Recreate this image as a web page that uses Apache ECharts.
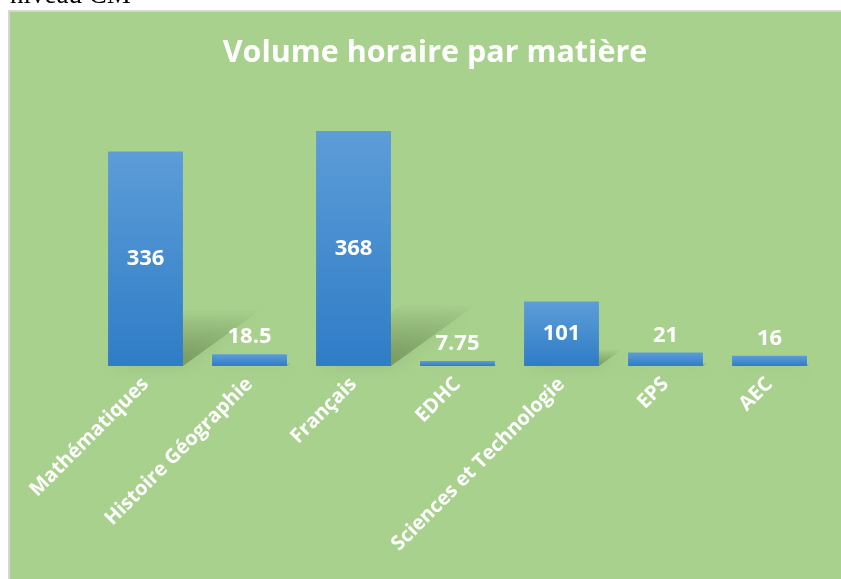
<!DOCTYPE html>
<html>
<head>
<meta charset="utf-8">
<script src="https://cdn.jsdelivr.net/npm/echarts@6/dist/echarts.min.js"></script>
<style>
    html, body { margin: 0; padding: 0; background: #ffffff; }
    #chart { width: 841px; height: 579px; }
</style>
</head>
<body>
<div id="chart"></div>
<script>
    var matieres = ['Mathématiques', 'Histoire Géographie', 'Français', 'EDHC', 'Sciences et Technologie', 'EPS', 'AEC'];
    var heures = [336, 18.5, 368, 7.75, 101, 21, 16];

    var chart = echarts.init(document.getElementById('chart'));

    // petites barres : étiquette au-dessus, sinon au centre
    var barData = heures.map(function(v) {
        return {
            value: v,
            label: { position: v < 50 ? 'top' : 'inside' }
        };
    });

    // ombre en perspective derrière chaque barre
    function renderShadow(params, api) {
        var idx = api.value(0);
        var v = api.value(1);
        var base = api.coord([idx, 0]);
        var top = api.coord([idx, v]);
        var w = api.size([1, 0])[0] * 0.72;
        var h = base[1] - top[1];
        var sh = h * 0.26;
        var dx = h * 0.36;
        var x0 = base[0] - w / 2;
        var x1 = base[0] + w / 2;
        var y0 = base[1];
        return {
            type: 'polygon',
            shape: {
                points: [[x0, y0], [x1, y0], [x1 + dx, y0 - sh], [x0 + dx, y0 - sh]]
            },
            style: {
                fill: new echarts.graphic.LinearGradient(0, 1, 0, 0, [
                    { offset: 0, color: 'rgba(70,100,50,0.45)' },
                    { offset: 1, color: 'rgba(70,100,50,0.02)' }
                ]),
                shadowBlur: 18,
                shadowColor: 'rgba(70,100,50,0.4)'
            }
        };
    }

    var option = {
        backgroundColor: '#ffffff',
        animation: false,
        graphic: [
            {
                type: 'text',
                left: 10,
                top: -18,
                style: {
                    text: 'niveau CM',
                    fill: '#000000',
                    font: '27px "Liberation Serif"'
                }
            },
            {
                type: 'rect',
                z: -10,
                shape: { x: 9, y: 11, width: 840, height: 580 },
                style: { fill: '#a9d18e' }
            },
            {
                type: 'polyline',
                z: -9,
                shape: { points: [[9, 579], [9, 11], [841, 11]] },
                style: { stroke: '#d6d6d6', lineWidth: 2, fill: null }
            }
        ],
        title: {
            text: 'Volume horaire par matière',
            left: 430,
            textAlign: 'center',
            top: 33,
            textStyle: {
                color: '#ffffff',
                fontFamily: 'Open Sans',
                fontWeight: 'bold',
                fontSize: 30.5
            }
        },
        grid: {
            left: 93.5,
            right: 19.5,
            top: 110.6,
            bottom: 213
        },
        xAxis: {
            type: 'category',
            data: matieres,
            axisLine: { show: false },
            axisTick: { show: false },
            axisLabel: {
                rotate: 45,
                interval: 0,
                margin: 15,
                color: '#ffffff',
                fontFamily: 'Open Sans',
                fontWeight: 'bold',
                fontSize: 20
            }
        },
        yAxis: {
            type: 'value',
            min: 0,
            max: 400,
            show: false,
            splitLine: { show: false }
        },
        series: [
            {
                type: 'custom',
                renderItem: renderShadow,
                data: heures.map(function(v, i) { return [i, v]; }),
                z: 1,
                silent: true
            },
            {
                type: 'bar',
                data: barData,
                barWidth: '72%',
                z: 2,
                itemStyle: {
                    color: new echarts.graphic.LinearGradient(0, 0, 0, 1, [
                        { offset: 0, color: '#5d9dd8' },
                        { offset: 1, color: '#2f7cc7' }
                    ])
                },
                label: {
                    show: true,
                    distance: 6,
                    color: '#ffffff',
                    fontFamily: 'Open Sans',
                    fontWeight: 'bold',
                    fontSize: 22
                }
            }
        ]
    };

    chart.setOption(option);
</script>
</body>
</html>
